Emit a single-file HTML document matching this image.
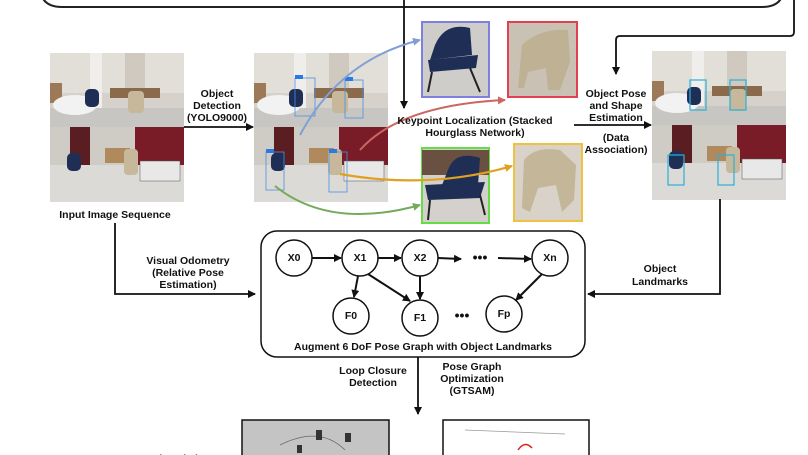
<!DOCTYPE html>
<html><head><meta charset="utf-8"><style>
html,body{margin:0;padding:0;background:#fff;}
svg{display:block;}
text{font-family:"Liberation Sans Narrow","Liberation Sans",sans-serif;font-weight:bold;font-size:10.5px;fill:#111;text-anchor:middle;}
</style></head><body>
<svg width="808" height="455" viewBox="0 0 808 455" xmlns="http://www.w3.org/2000/svg">
<defs>
<marker id="ah" markerWidth="8" markerHeight="8" refX="7" refY="4" orient="auto" markerUnits="userSpaceOnUse"><path d="M0,0 L8,4 L0,8 Z" fill="#111"/></marker>
<marker id="ab" markerWidth="8" markerHeight="8" refX="7" refY="4" orient="auto" markerUnits="userSpaceOnUse"><path d="M0,0 L8,4 L0,8 Z" fill="#7f9fd6"/></marker>
<marker id="ar" markerWidth="8" markerHeight="8" refX="7" refY="4" orient="auto" markerUnits="userSpaceOnUse"><path d="M0,0 L8,4 L0,8 Z" fill="#cc6660"/></marker>
<marker id="ag" markerWidth="8" markerHeight="8" refX="7" refY="4" orient="auto" markerUnits="userSpaceOnUse"><path d="M0,0 L8,4 L0,8 Z" fill="#74aa5c"/></marker>
<marker id="ao" markerWidth="8" markerHeight="8" refX="7" refY="4" orient="auto" markerUnits="userSpaceOnUse"><path d="M0,0 L8,4 L0,8 Z" fill="#e0a020"/></marker>
<g id="photo">
 <rect x="0" y="0" width="134" height="74" fill="#d6d2cb"/>
 <rect x="0" y="0" width="134" height="40" fill="#e2ded8"/>
 <rect x="40" y="0" width="12" height="55" fill="#f0eeea"/>
 <rect x="75" y="0" width="20" height="45" fill="#cfc9c0"/>
 <rect x="60" y="35" width="50" height="10" fill="#8a6a4a"/>
 <rect x="0" y="30" width="12" height="20" fill="#9c7a58"/>
 <rect x="0" y="55" width="134" height="19" fill="#c8c6c2"/>
 <ellipse cx="25" cy="52" rx="22" ry="10" fill="#f2f2f2"/>
 <rect x="35" y="36" width="14" height="18" rx="5" fill="#1f2e55"/>
 <rect x="78" y="38" width="16" height="22" rx="4" fill="#c7b89c"/>
 <rect x="0" y="74" width="134" height="75" fill="#cfccc6"/>
 <rect x="20" y="74" width="20" height="38" fill="#5a1e22"/>
 <rect x="85" y="74" width="49" height="38" fill="#7a1c28"/>
 <rect x="55" y="95" width="25" height="15" fill="#b08a5c"/>
 <rect x="0" y="112" width="134" height="37" fill="#dcdad6"/>
 <rect x="17" y="100" width="14" height="18" rx="5" fill="#1f2e55"/>
 <rect x="74" y="96" width="14" height="26" rx="4" fill="#c7b89c"/>
 <rect x="90" y="108" width="40" height="20" fill="#e8e8e8" stroke="#555" stroke-width="0.5"/>
</g>
</defs>

<path d="M40,-20 L40,-14 Q40,7 62,7 L762,7 Q784,7 784,-14 L784,-20" fill="none" stroke="#222" stroke-width="2"/>
<line x1="404" y1="0" x2="404" y2="108" stroke="#111" stroke-width="1.8" marker-end="url(#ah)"/>
<path d="M794,0 L794,32 Q794,36 790,36 L620,36 Q616,36 616,40 L616,74" fill="none" stroke="#111" stroke-width="1.8" marker-end="url(#ah)"/>

<use href="#photo" x="50" y="53"/>
<use href="#photo" x="254" y="53"/>
<g fill="none" stroke="#4a90e2" stroke-width="0.8">
 <rect x="295" y="78" width="20" height="38"/><rect x="345" y="80" width="18" height="38"/>
 <rect x="266" y="152" width="18" height="38"/><rect x="329" y="152" width="18" height="40"/>
</g>
<g fill="#2a7ae2"><rect x="295" y="75" width="8" height="4"/><rect x="345" y="77" width="8" height="4"/><rect x="266" y="149" width="8" height="4"/><rect x="329" y="149" width="8" height="4"/></g>
<use href="#photo" x="652" y="51"/>
<g fill="none" stroke="#2ab0d8" stroke-width="1.2"><rect x="690" y="80" width="16" height="30"/><rect x="730" y="80" width="16" height="30"/><rect x="668" y="155" width="16" height="30"/><rect x="718" y="155" width="16" height="30"/></g>

<rect x="422" y="22" width="67" height="75" fill="#cfcdca" stroke="#7f7fe0" stroke-width="2"/>
<path d="M435,45 Q445,22 470,28 L472,55 L430,60 Z" fill="#1f2e55"/>
<path d="M428,60 L478,55 L476,68 L430,72 Z" fill="#1f2e55"/>
<path d="M432,72 L428,92 M470,68 L480,92" stroke="#222" stroke-width="2"/>
<rect x="508" y="22" width="69" height="75" fill="#c9c2b4" stroke="#e04050" stroke-width="2"/>
<path d="M522,45 Q540,28 568,30 L570,62 L560,90 L548,90 L546,68 L528,72 L524,88 L518,88 Z" fill="#bfb194"/>
<rect x="422" y="148" width="67" height="75" fill="#d4d1cc" stroke="#66dd44" stroke-width="2"/>
<path d="M422,150 L489,150 L489,175 L422,175 Z" fill="#6a5040"/>
<path d="M448,170 Q455,150 480,158 L478,185 L440,190 Z" fill="#1f2e55"/>
<path d="M425,185 L485,182 L480,198 L428,200 Z" fill="#1f2e55"/>
<path d="M430,200 L428,220 M480,195 L485,215" stroke="#222" stroke-width="2"/>
<rect x="514" y="144" width="68" height="77" fill="#d8d2c8" stroke="#f0c040" stroke-width="2"/>
<path d="M524,160 Q535,146 560,150 L576,165 L574,200 L562,212 L556,185 L538,188 L530,212 L522,208 Z" fill="#c3b699"/>

<path d="M300,135 Q340,60 420,40" fill="none" stroke="#7f9fd6" stroke-width="2" marker-end="url(#ab)"/>
<path d="M360,150 Q400,105 505,100" fill="none" stroke="#cc6660" stroke-width="2" marker-end="url(#ar)"/>
<path d="M275,186 Q330,230 420,205" fill="none" stroke="#74aa5c" stroke-width="2" marker-end="url(#ag)"/>
<path d="M340,174 Q430,190 512,166" fill="none" stroke="#e0a020" stroke-width="2.2" marker-end="url(#ao)"/>

<text x="217" y="97">Object</text>
<text x="217" y="109">Detection</text>
<text x="217" y="121">(YOLO9000)</text>
<line x1="184" y1="127" x2="253" y2="127" stroke="#111" stroke-width="1.8" marker-end="url(#ah)"/>
<text x="475" y="124">Keypoint Localization (Stacked</text>
<text x="475" y="136">Hourglass Network)</text>
<line x1="574" y1="125" x2="651" y2="125" stroke="#111" stroke-width="1.8" marker-end="url(#ah)"/>
<text x="616" y="97">Object Pose</text>
<text x="616" y="109">and Shape</text>
<text x="616" y="121">Estimation</text>
<text x="616" y="141">(Data</text>
<text x="616" y="153">Association)</text>
<text x="115" y="218">Input Image Sequence</text>

<path d="M115,223 L115,294 L255,294" fill="none" stroke="#111" stroke-width="1.8" marker-end="url(#ah)"/>
<path d="M720,199 L720,294 L588,294" fill="none" stroke="#111" stroke-width="1.8" marker-end="url(#ah)"/>
<text x="188" y="264">Visual Odometry</text>
<text x="188" y="276">(Relative Pose</text>
<text x="188" y="288">Estimation)</text>
<text x="660" y="272">Object</text>
<text x="660" y="285">Landmarks</text>

<rect x="261" y="231" width="324" height="126" rx="16" fill="#fff" stroke="#111" stroke-width="1.5"/>
<g fill="#fff" stroke="#111" stroke-width="1.5">
<circle cx="294" cy="258" r="18"/><circle cx="360" cy="258" r="18"/><circle cx="420" cy="258" r="18"/><circle cx="550" cy="258" r="18"/>
<circle cx="351" cy="316" r="18"/><circle cx="420" cy="318" r="18"/><circle cx="504" cy="314" r="18"/>
</g>
<g style="font-size:8px">
<text x="294" y="261">X0</text><text x="360" y="261">X1</text><text x="420" y="261">X2</text><text x="550" y="261">Xn</text>
<text x="351" y="319">F0</text><text x="420" y="321">F1</text><text x="504" y="317">Fp</text>
</g>
<g stroke="#111" stroke-width="2" fill="none">
<line x1="312" y1="258" x2="341" y2="258" marker-end="url(#ah)"/>
<line x1="378" y1="258" x2="401" y2="258" marker-end="url(#ah)"/>
<line x1="438" y1="258" x2="461" y2="259" marker-end="url(#ah)"/>
<line x1="498" y1="258" x2="531" y2="259" marker-end="url(#ah)"/>
<line x1="358" y1="276" x2="354" y2="297" marker-end="url(#ah)"/>
<line x1="368" y1="274" x2="410" y2="301" marker-end="url(#ah)"/>
<line x1="420" y1="276" x2="420" y2="299" marker-end="url(#ah)"/>
<line x1="542" y1="274" x2="516" y2="300" marker-end="url(#ah)"/>
</g>
<text x="480" y="262" style="font-size:14px">•••</text>
<text x="462" y="320" style="font-size:14px">•••</text>
<text x="423" y="350">Augment 6 DoF Pose Graph with Object Landmarks</text>

<line x1="418" y1="357" x2="418" y2="414" stroke="#111" stroke-width="1.8" marker-end="url(#ah)"/>
<text x="373" y="374">Loop Closure</text>
<text x="373" y="386">Detection</text>
<text x="472" y="370">Pose Graph</text>
<text x="472" y="382">Optimization</text>
<text x="472" y="394">(GTSAM)</text>
<rect x="242" y="420" width="147" height="40" fill="#c4c4c4" stroke="#111" stroke-width="1.5"/>
<path d="M280,445 Q320,425 345,450" fill="none" stroke="#666" stroke-width="0.8"/>
<rect x="316" y="430" width="6" height="10" fill="#333"/><rect x="345" y="433" width="6" height="9" fill="#333"/><rect x="297" y="445" width="5" height="8" fill="#333"/>
<rect x="443" y="420" width="146" height="40" fill="#fff" stroke="#111" stroke-width="1.5"/>
<path d="M465,430 L565,434" stroke="#999" stroke-width="0.8"/>
<path d="M518,450 Q525,440 532,448" fill="none" stroke="#e02020" stroke-width="1.5"/>
<text x="190" y="462">Retrieved closest 3D</text>
</svg>
</body></html>
